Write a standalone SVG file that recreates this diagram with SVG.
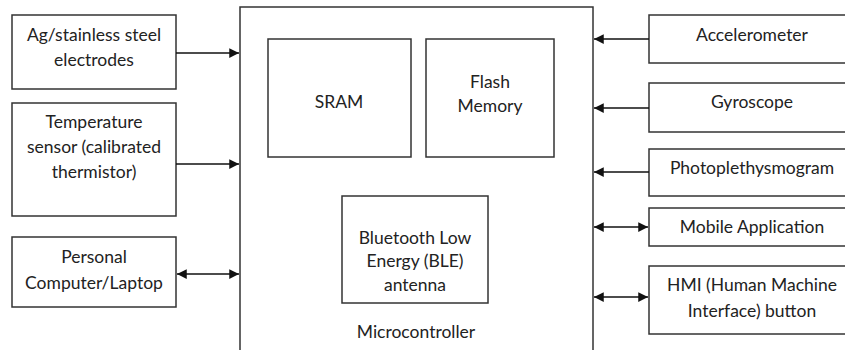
<svg xmlns="http://www.w3.org/2000/svg" width="845" height="350" viewBox="0 0 845 350">
<style>
.box{fill:#fff;stroke:#333;stroke-width:1.5}
.t{font-family:Lato,"Liberation Sans",sans-serif;font-size:17.5px;fill:#222;text-anchor:middle}
.c{stroke:#111;stroke-width:1.5;fill:none}
</style>
<defs>
<marker id="ah" viewBox="0 0 10 10" refX="10" refY="5" markerWidth="6.5" markerHeight="6.5" orient="auto-start-reverse" markerUnits="strokeWidth">
<path d="M0,0 L10,5 L0,10 z" fill="#111"/>
</marker>
</defs>
<rect width="845" height="350" fill="#fff"/>
<g id="microcontroller">
<rect class="box" x="240" y="7" width="353" height="360"/>
<text class="t" x="416" y="338">Microcontroller</text>
</g>
<g id="sram">
<rect class="box" x="268" y="39" width="143" height="118"/>
<text class="t" x="339" y="108">SRAM</text>
</g>
<g id="flash">
<rect class="box" x="426" y="39" width="128" height="118"/>
<text class="t" x="490" y="88">Flash</text>
<text class="t" x="490" y="112">Memory</text>
</g>
<g id="ble">
<rect class="box" x="342" y="196" width="146" height="107"/>
<text class="t" x="415" y="244">Bluetooth Low</text>
<text class="t" x="415" y="267">Energy (BLE)</text>
<text class="t" x="415" y="291">antenna</text>
</g>
<g id="electrodes">
<rect class="box" x="12" y="15" width="164" height="74"/>
<text class="t" x="94" y="41">Ag/stainless steel</text>
<text class="t" x="94" y="66">electrodes</text>
</g>
<g id="temperature">
<rect class="box" x="12" y="103" width="164" height="113"/>
<text class="t" x="94" y="128">Temperature</text>
<text class="t" x="94" y="153">sensor (calibrated</text>
<text class="t" x="94" y="178">thermistor)</text>
</g>
<g id="pc">
<rect class="box" x="12" y="237" width="164" height="70"/>
<text class="t" x="94" y="263">Personal</text>
<text class="t" x="94" y="289">Computer/Laptop</text>
</g>
<g id="accelerometer">
<rect class="box" x="649" y="15" width="210" height="48"/>
<text class="t" x="752" y="41">Accelerometer</text>
</g>
<g id="gyroscope">
<rect class="box" x="649" y="83" width="210" height="49"/>
<text class="t" x="752" y="108">Gyroscope</text>
</g>
<g id="ppg">
<rect class="box" x="649" y="149" width="210" height="47"/>
<text class="t" x="752" y="174">Photoplethysmogram</text>
</g>
<g id="mobile">
<rect class="box" x="649" y="208" width="210" height="38"/>
<text class="t" x="752" y="233">Mobile Application</text>
</g>
<g id="hmi">
<rect class="box" x="649" y="266" width="210" height="68"/>
<text class="t" x="752" y="291">HMI (Human Machine</text>
<text class="t" x="752" y="317">Interface) button</text>
</g>
<g id="connectors">
<line class="c" x1="176" y1="53" x2="239" y2="53" marker-end="url(#ah)"/>
<line class="c" x1="176" y1="164" x2="239" y2="164" marker-end="url(#ah)"/>
<line class="c" x1="177" y1="274" x2="239" y2="274" marker-start="url(#ah)" marker-end="url(#ah)"/>
<line class="c" x1="649" y1="39" x2="594" y2="39" marker-end="url(#ah)"/>
<line class="c" x1="649" y1="108" x2="594" y2="108" marker-end="url(#ah)"/>
<line class="c" x1="649" y1="172" x2="594" y2="172" marker-end="url(#ah)"/>
<line class="c" x1="594" y1="227" x2="648" y2="227" marker-start="url(#ah)" marker-end="url(#ah)"/>
<line class="c" x1="594" y1="297" x2="648" y2="297" marker-start="url(#ah)" marker-end="url(#ah)"/>
</g>
</svg>
